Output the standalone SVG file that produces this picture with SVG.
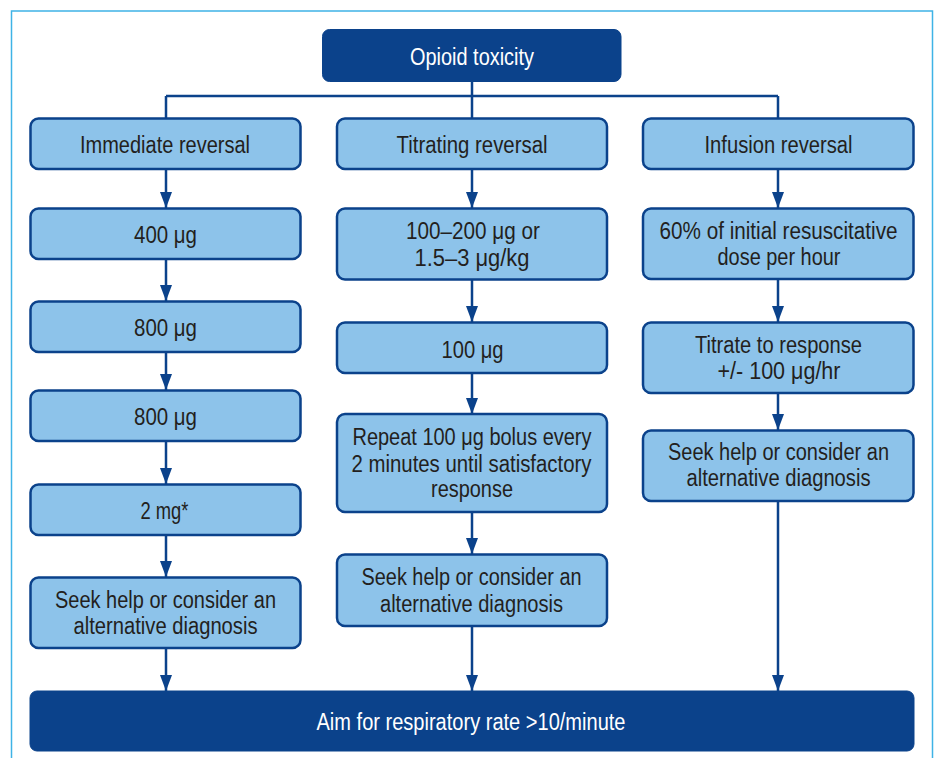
<svg xmlns="http://www.w3.org/2000/svg" width="936" height="758" viewBox="0 0 936 758">
<defs>
<style>
.box{fill:#8dc3ea;stroke:#0b428b;stroke-width:2.5}
.dark{fill:#0b428b;stroke:#0b428b;stroke-width:1}
.t{font-family:"Liberation Sans",Arial,sans-serif;font-size:23px;fill:#231f20;text-anchor:middle}
.w{fill:#ffffff}
.ln{fill:none;stroke:#0b428b;stroke-width:2.5}
.ar{fill:none;stroke:#0b428b;stroke-width:2.5;marker-end:url(#ah)}
</style>
<marker id="ah" viewBox="0 0 16 12" refX="16" refY="6" markerWidth="16" markerHeight="12" markerUnits="userSpaceOnUse" orient="auto">
<path d="M0,0 L16,6 L0,12 Z" fill="#0b428b"/>
</marker>
</defs>
<rect width="936" height="758" fill="#ffffff"/>
<path d="M11.5,758 V11 H932.5 V758" fill="none" stroke="#3fb3e6" stroke-width="1.5"/>

<g id="connectors">
<path class="ln" d="M472,82 V96 M166,96 H778 M166,96 V118 M472,96 V118 M778,96 V118"/>
<path class="ar" d="M166,169 V208"/>
<path class="ar" d="M166,259 V301"/>
<path class="ar" d="M166,352 V390"/>
<path class="ar" d="M166,441 V484"/>
<path class="ar" d="M166,535 V577"/>
<path class="ar" d="M166,648 V691"/>
<path class="ar" d="M472,169 V208"/>
<path class="ar" d="M472,280 V322"/>
<path class="ar" d="M472,373 V414"/>
<path class="ar" d="M472,512 V554"/>
<path class="ar" d="M472,626 V691"/>
<path class="ar" d="M778,169 V208"/>
<path class="ar" d="M778,279 V322"/>
<path class="ar" d="M778,393 V430"/>
<path class="ar" d="M778,501 V691"/>
</g>

<g id="opioid">
<rect class="dark" x="322.5" y="29.5" width="298.5" height="52" rx="7"/>
<text class="t w" x="472" y="64.5" textLength="124" lengthAdjust="spacingAndGlyphs">Opioid toxicity</text>
</g>

<g id="immediate">
<rect class="box" x="30.5" y="118.5" width="270" height="50.5" rx="8"/>
<text class="t" x="165" y="152.5" textLength="170" lengthAdjust="spacingAndGlyphs">Immediate reversal</text>
</g>
<g id="c1-400">
<rect class="box" x="30.5" y="208.5" width="270" height="50.5" rx="8"/>
<text class="t" x="165.5" y="242.5" textLength="63" lengthAdjust="spacingAndGlyphs">400 μg</text>
</g>
<g id="c1-800a">
<rect class="box" x="30.5" y="301.5" width="270" height="50.5" rx="8"/>
<text class="t" x="165.5" y="336" textLength="63" lengthAdjust="spacingAndGlyphs">800 μg</text>
</g>
<g id="c1-800b">
<rect class="box" x="30.5" y="390.5" width="270" height="50.5" rx="8"/>
<text class="t" x="165.5" y="424.5" textLength="63" lengthAdjust="spacingAndGlyphs">800 μg</text>
</g>
<g id="c1-2mg">
<rect class="box" x="30.5" y="484.5" width="270" height="50.5" rx="8"/>
<text class="t" x="164.5" y="518.5" textLength="48" lengthAdjust="spacingAndGlyphs">2 mg*</text>
</g>
<g id="c1-seek">
<rect class="box" x="30.5" y="577.5" width="270" height="70.5" rx="8"/>
<text class="t" x="165.5" y="608" textLength="221" lengthAdjust="spacingAndGlyphs">Seek help or consider an</text>
<text class="t" x="165.5" y="634" textLength="184" lengthAdjust="spacingAndGlyphs">alternative diagnosis</text>
</g>

<g id="titrating">
<rect class="box" x="337" y="118.5" width="270" height="50.5" rx="8"/>
<text class="t" x="472" y="152.5" textLength="151" lengthAdjust="spacingAndGlyphs">Titrating reversal</text>
</g>
<g id="c2-dose">
<rect class="box" x="337" y="208.5" width="270" height="71" rx="8"/>
<text class="t" x="473" y="239" textLength="134" lengthAdjust="spacingAndGlyphs">100–200 μg or</text>
<text class="t" x="472" y="266" textLength="115" lengthAdjust="spacingAndGlyphs">1.5–3 μg/kg</text>
</g>
<g id="c2-100">
<rect class="box" x="337" y="322.5" width="270" height="50.5" rx="8"/>
<text class="t" x="472.5" y="357.5" textLength="62" lengthAdjust="spacingAndGlyphs">100 μg</text>
</g>
<g id="c2-repeat">
<rect class="box" x="337" y="414" width="270" height="98" rx="8"/>
<text class="t" x="472" y="445" textLength="239" lengthAdjust="spacingAndGlyphs">Repeat 100 μg bolus every</text>
<text class="t" x="471.5" y="471.5" textLength="240" lengthAdjust="spacingAndGlyphs">2 minutes until satisfactory</text>
<text class="t" x="472" y="497" textLength="82" lengthAdjust="spacingAndGlyphs">response</text>
</g>
<g id="c2-seek">
<rect class="box" x="337" y="554.5" width="270" height="71.5" rx="8"/>
<text class="t" x="471.5" y="585" textLength="220" lengthAdjust="spacingAndGlyphs">Seek help or consider an</text>
<text class="t" x="471.5" y="611.5" textLength="183" lengthAdjust="spacingAndGlyphs">alternative diagnosis</text>
</g>

<g id="infusion">
<rect class="box" x="643" y="118.5" width="270.5" height="50.5" rx="8"/>
<text class="t" x="778.5" y="152.5" textLength="148" lengthAdjust="spacingAndGlyphs">Infusion reversal</text>
</g>
<g id="c3-60">
<rect class="box" x="643" y="208.5" width="270.5" height="70.5" rx="8"/>
<text class="t" x="778.5" y="239" textLength="238" lengthAdjust="spacingAndGlyphs">60% of initial resuscitative</text>
<text class="t" x="779" y="265" textLength="123" lengthAdjust="spacingAndGlyphs">dose per hour</text>
</g>
<g id="c3-titrate">
<rect class="box" x="643" y="322.5" width="270.5" height="70.5" rx="8"/>
<text class="t" x="778.5" y="352.5" textLength="167" lengthAdjust="spacingAndGlyphs">Titrate to response</text>
<text class="t" x="779" y="379" textLength="123" lengthAdjust="spacingAndGlyphs">+/- 100 μg/hr</text>
</g>
<g id="c3-seek">
<rect class="box" x="643" y="430.5" width="270.5" height="70.5" rx="8"/>
<text class="t" x="778.5" y="459.5" textLength="221" lengthAdjust="spacingAndGlyphs">Seek help or consider an</text>
<text class="t" x="778.5" y="485.5" textLength="184" lengthAdjust="spacingAndGlyphs">alternative diagnosis</text>
</g>

<g id="aim">
<rect class="dark" x="30" y="691" width="884" height="60" rx="7"/>
<text class="t w" x="471" y="730" textLength="309" lengthAdjust="spacingAndGlyphs">Aim for respiratory rate &gt;10/minute</text>
</g>
</svg>
